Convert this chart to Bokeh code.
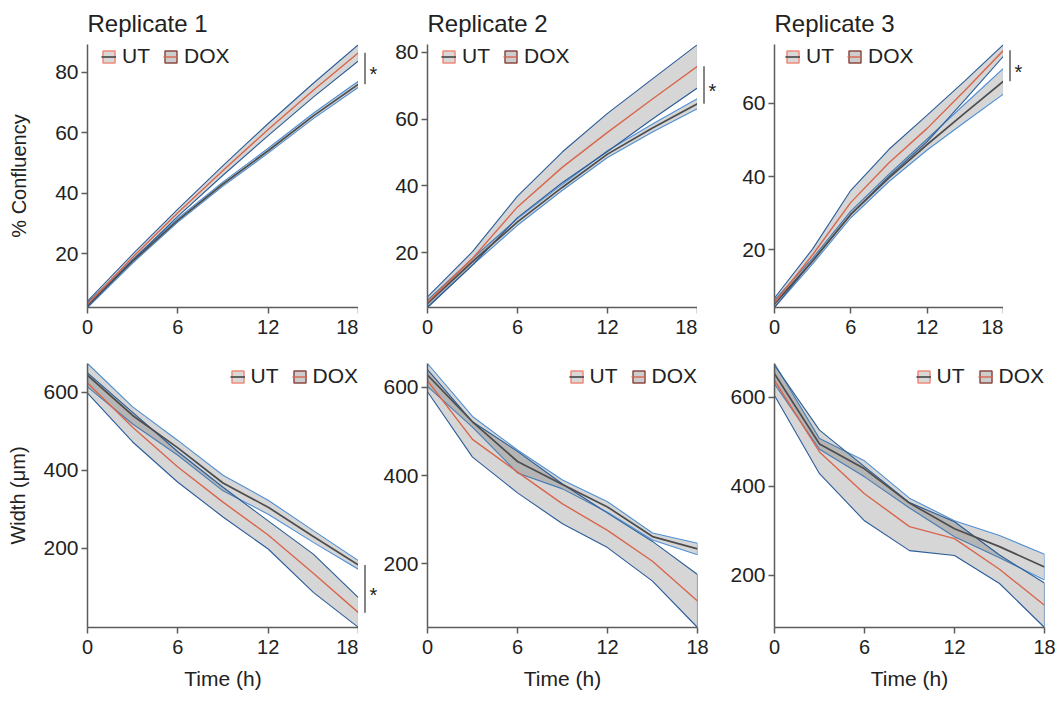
import numpy as np
from bokeh.plotting import figure
from bokeh.layouts import column, row
from bokeh.models import Range1d, Legend, LegendItem, FixedTicker
from bokeh.core.properties import value
from bokeh.embed import file_html
from bokeh.resources import INLINE

# ---------------- data ----------------
times = [0, 3, 6, 9, 12, 15, 18]
x_ticks = [0, 6, 12, 18]
conf_ticks = [20, 40, 60, 80]
width_ticks = [200, 400, 600]
replicates = ["Replicate 1", "Replicate 2", "Replicate 3"]
groups = ["UT", "DOX"]
significance = ["*", "*", "*", "*", "", ""]

# % confluency
conf1_ut = [3.0, 17.5, 31.0, 43.0, 54.0, 65.5, 76.0]
conf1_ut_err = [0.8, 0.6, 0.6, 0.7, 0.8, 0.9, 1.0]
conf1_dox = [3.3, 18.8, 33.5, 47.5, 61.0, 74.0, 86.4]
conf1_dox_err = [1.0, 1.0, 1.2, 1.6, 2.0, 2.3, 2.7]

conf2_ut = [4.8, 17.3, 29.2, 39.6, 49.5, 57.3, 64.6]
conf2_ut_err = [1.0, 1.0, 1.0, 0.9, 1.0, 1.2, 1.5]
conf2_dox = [5.2, 18.3, 33.7, 45.6, 56.0, 66.0, 75.8]
conf2_dox_err = [1.6, 2.0, 3.2, 4.6, 5.7, 6.0, 6.5]

conf3_ut = [5.3, 17.0, 29.7, 39.7, 48.8, 57.5, 66.1]
conf3_ut_err = [1.0, 0.8, 0.9, 1.0, 1.5, 2.5, 3.5]
conf3_dox = [5.6, 18.7, 33.0, 43.8, 53.2, 63.7, 74.5]
conf3_dox_err = [1.3, 1.6, 3.3, 3.7, 3.6, 2.6, 1.6]

# wound width (um)
wid1_ut = [643, 540, 457, 367, 305, 230, 157]
wid1_ut_err = [30, 22, 19, 20, 18, 15, 11]
wid1_dox = [623, 510, 408, 318, 234, 136, 35]
wid1_dox_err = [26, 38, 39, 38, 36, 49, 38]

wid2_ut = [628, 522, 432, 380, 329, 262, 234]
wid2_ut_err = [26, 12, 26, 10, 12, 8, 13]
wid2_dox = [615, 482, 408, 336, 276, 206, 116]
wid2_dox_err = [25, 40, 47, 45, 39, 45, 60]

wid3_ut = [653, 495, 439, 362, 304, 264, 218]
wid3_ut_err = [23, 12, 18, 11, 18, 25, 29]
wid3_dox = [638, 477, 383, 309, 282, 213, 132]
wid3_dox_err = [34, 49, 61, 54, 38, 32, 50]

# ---------------- styles ----------------
FONT = "Liberation Sans"
TXT = "#222222"
AX = "#5c5c5c"
UT_LINE = "#4d4d4d"
DOX_LINE = "#d9664c"
UT_EDGE = "#4f8fd3"
DOX_EDGE = "#2a5c98"
BAND_FILL = "#333333"
UT_KEY_LINE = "#f08a7a"
DOX_KEY_LINE = "#8a4a42"
LEGEND_FS = 21


def panel(ut, ut_err, dox, dox_err, *, width, height, mbl, mbr, mbt, mbb,
          yticks, title=None, ylabel=None, ylabel_standoff=10, xlabel=None,
          legend_side="left", legend_dx=14):
    t = np.array(times, float)
    ut = np.array(ut, float); ut_err = np.array(ut_err, float)
    dox = np.array(dox, float); dox_err = np.array(dox_err, float)
    ut_lo, ut_hi = ut - ut_err, ut + ut_err
    dox_lo, dox_hi = dox - dox_err, dox + dox_err
    ymin = min(ut_lo.min(), dox_lo.min())
    ymax = max(ut_hi.max(), dox_hi.max())
    frame_w = width - mbl - mbr
    frame_h = height - mbt - mbb

    p = figure(width=width, height=height, x_range=Range1d(t[0], t[-1]),
               y_range=Range1d(ymin, ymax), output_backend="svg",
               toolbar_location=None, min_border_left=mbl, min_border_right=mbr,
               min_border_top=mbt, min_border_bottom=mbb)
    p.outline_line_color = None
    p.grid.visible = False

    for lo, hi, edge in ((ut_lo, ut_hi, UT_EDGE), (dox_lo, dox_hi, DOX_EDGE)):
        xs = np.concatenate([t, t[::-1]])
        ys = np.concatenate([hi, lo[::-1]])
        p.patch(xs, ys, fill_color=BAND_FILL, fill_alpha=0.2,
                line_color=edge, line_width=1.1)
    r_ut = p.line(t, ut, line_color=UT_LINE, line_width=1.7)
    r_dox = p.line(t, dox, line_color=DOX_LINE, line_width=1.4)

    # legend keys (not drawn in the plot: NaN positions)
    k_ut = p.rect(x=[np.nan], y=[np.nan], width=1, height=1, fill_color="#d8d8d8",
                  line_color=UT_KEY_LINE, line_width=1.5)
    k_dox = p.rect(x=[np.nan], y=[np.nan], width=1, height=1, fill_color="#cdcdcd",
                   line_color=DOX_KEY_LINE, line_width=1.5)

    legend_h = 23
    legend_w = 15 + 6 + 1.333 * LEGEND_FS + 13 + 15 + 6 + 2.167 * LEGEND_FS
    ly = frame_h - 2 - legend_h
    lx = legend_dx if legend_side == "left" else frame_w - legend_w
    legend = Legend(items=[LegendItem(label=groups[0], renderers=[k_ut, r_ut]),
                           LegendItem(label=groups[1], renderers=[k_dox, r_dox])],
                    orientation="horizontal", location=(lx, ly),
                    glyph_width=15, glyph_height=15, label_height=15,
                    label_standoff=6, spacing=13, padding=0, margin=0,
                    border_line_color=None, background_fill_alpha=0,
                    label_text_font=FONT, label_text_font_size=f"{LEGEND_FS}px",
                    label_text_color=TXT)
    p.add_layout(legend)

    p.xaxis.ticker = FixedTicker(ticks=x_ticks)
    p.yaxis.ticker = FixedTicker(ticks=yticks)
    for ax in p.axis:
        ax.axis_line_color = AX
        ax.axis_line_width = 1.5
        ax.major_tick_line_color = AX
        ax.major_tick_line_width = 1.5
        ax.major_tick_out = 6
        ax.major_tick_in = 0
        ax.minor_tick_line_color = None
        ax.major_label_text_font = FONT
        ax.major_label_text_color = TXT
        ax.axis_label_text_font = FONT
        ax.axis_label_text_font_style = "normal"
        ax.axis_label_text_color = TXT
    p.yaxis.major_label_text_font_size = "21px"
    p.xaxis.major_label_text_font_size = "20px"
    p.yaxis.axis_label_text_font_size = "20px"
    p.xaxis.axis_label_text_font_size = "21px"
    p.yaxis.major_label_standoff = 3
    p.xaxis.major_label_standoff = 6
    if ylabel:
        p.yaxis.axis_label = ylabel
        p.yaxis.axis_label_standoff = ylabel_standoff
    if xlabel:
        p.xaxis.axis_label = xlabel
        p.xaxis.axis_label_standoff = 10
    if title:
        p.title.text = title
        p.title.text_font = FONT
        p.title.text_font_size = "24px"
        p.title.text_font_style = "normal"
        p.title.text_color = TXT
        p.title.align = "left"
        p.title.standoff = 15
    return p, ut[-1], dox[-1]


def marker(p, ut_end, dox_end, sig, *, width, height, mbt, mbb):
    """Significance bracket drawn just right of a panel, sharing its y scale."""
    m = figure(width=width, height=height, x_range=Range1d(0, width),
               y_range=p.y_range, output_backend="svg", toolbar_location=None,
               min_border_left=0, min_border_right=0, min_border_top=mbt,
               min_border_bottom=mbb, x_axis_type=None, y_axis_type=None)
    m.outline_line_color = None
    m.grid.visible = False
    if sig:
        m.segment(x0=[6.5], y0=[ut_end], x1=[6.5], y1=[dox_end],
                  line_color=AX, line_width=1.5)
        m.text(x=[15], y=[(ut_end + dox_end) / 2], text=[sig],
               text_font=value(FONT), text_font_size="20px",
               text_align="center", text_baseline="middle",
               text_color=TXT, y_offset=6)
    return m


TOP_H, BOT_H = 347, 354
TT, TB = 43, 40
BT, BB = 16, 74

p1, u1, d1 = panel(conf1_ut, conf1_ut_err, conf1_dox, conf1_dox_err, width=358,
                   height=TOP_H, mbl=87, mbr=0, mbt=TT, mbb=TB, yticks=conf_ticks,
                   title=replicates[0], ylabel="% Confluency", ylabel_standoff=22,
                   legend_dx=14)
m1 = marker(p1, u1, d1, significance[0], width=22, height=TOP_H, mbt=TT, mbb=TB)
p2, u2, d2 = panel(conf2_ut, conf2_ut_err, conf2_dox, conf2_dox_err, width=317,
                   height=TOP_H, mbl=47, mbr=0, mbt=TT, mbb=TB, yticks=conf_ticks,
                   title=replicates[1], legend_dx=14)
m2 = marker(p2, u2, d2, significance[1], width=23, height=TOP_H, mbt=TT, mbb=TB)
p3, u3, d3 = panel(conf3_ut, conf3_ut_err, conf3_dox, conf3_dox_err, width=283,
                   height=TOP_H, mbl=54, mbr=0, mbt=TT, mbb=TB, yticks=conf_ticks,
                   title=replicates[2], legend_dx=11)
m3 = marker(p3, u3, d3, significance[2], width=54, height=TOP_H, mbt=TT, mbb=TB)

p4, u4, d4 = panel(wid1_ut, wid1_ut_err, wid1_dox, wid1_dox_err, width=358,
                   height=BOT_H, mbl=87, mbr=0, mbt=BT, mbb=BB, yticks=width_ticks,
                   ylabel="Width (\u03bcm)", ylabel_standoff=11, xlabel="Time (h)",
                   legend_side="right")
m4 = marker(p4, u4, d4, significance[3], width=22, height=BOT_H, mbt=BT, mbb=BB)
p5, _, _ = panel(wid2_ut, wid2_ut_err, wid2_dox, wid2_dox_err, width=339,
                 height=BOT_H, mbl=47, mbr=22, mbt=BT, mbb=BB, yticks=width_ticks,
                 xlabel="Time (h)", legend_side="right")
p6, _, _ = panel(wid3_ut, wid3_ut_err, wid3_dox, wid3_dox_err, width=338,
                 height=BOT_H, mbl=55, mbr=13, mbt=BT, mbb=BB, yticks=width_ticks,
                 xlabel="Time (h)", legend_side="right")

layout = column(row(p1, m1, p2, m2, p3, m3, spacing=0),
                row(p4, m4, p5, p6, spacing=0), spacing=0)
open("out.html", "w").write(file_html(layout, INLINE))
